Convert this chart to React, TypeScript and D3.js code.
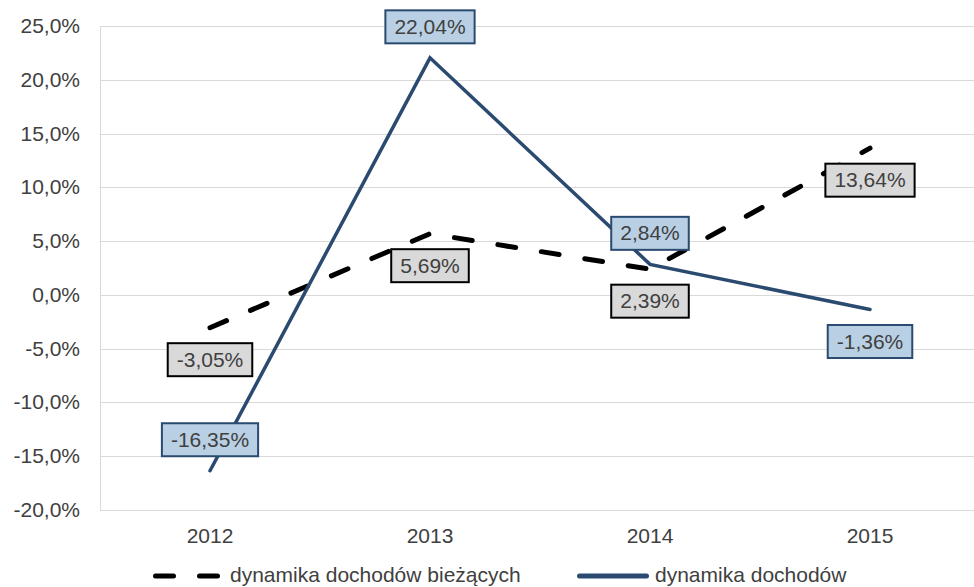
import { useEffect, useRef } from 'react';
import * as d3 from 'd3';

// Years on the x axis
const years = ['2012', '2013', '2014', '2015'];
// dynamika dochodów bieżących (dashed, black)
const currentIncome = [-3.05, 5.69, 2.39, 13.64];
// dynamika dochodów (solid, navy)
const totalIncome = [-16.35, 22.04, 2.84, -1.36];
// where each data label sits relative to its point
const currentLabelSide = ['below', 'below', 'below', 'below'];
const totalLabelSide = ['above', 'above', 'above', 'below'];
const yTicks = [25, 20, 15, 10, 5, 0, -5, -10, -15, -20];
const legendNames = ['dynamika dochodów bieżących', 'dynamika dochodów'];

const W = 974;
const H = 587;
const FONT = '"Liberation Sans", Arial, sans-serif';
const TEXT = '#404040';
const NAVY = '#2a4a70';

const pct = (v: number, digits: number) => v.toFixed(digits).replace('.', ',') + '%';

export default function App() {
  const svgRef = useRef<SVGSVGElement>(null);

  useEffect(() => {
    if (!svgRef.current) return;
    const svg = d3.select(svgRef.current);
    svg.selectAll('*').remove();

    const left = 100;
    const right = 980;
    const x = d3.scaleBand<string>().domain(years).range([left, right]).padding(0);
    const cx = (y: string) => (x(y) ?? 0) + x.bandwidth() / 2;
    const y = d3.scaleLinear().domain([-20, 25]).range([510, 26]);

    // grid lines
    svg
      .selectAll('.grid')
      .data(yTicks)
      .enter()
      .append('line')
      .attr('x1', left)
      .attr('x2', W)
      .attr('y1', (d) => Math.round(y(d)) + 0.5)
      .attr('y2', (d) => Math.round(y(d)) + 0.5)
      .attr('stroke', '#d9d9d9')
      .attr('stroke-width', 1);

    // vertical axis line
    svg
      .append('line')
      .attr('x1', left + 0.5)
      .attr('x2', left + 0.5)
      .attr('y1', Math.round(y(25)) + 0.5)
      .attr('y2', Math.round(y(-20)) + 0.5)
      .attr('stroke', '#d9d9d9');

    // y tick labels
    svg
      .selectAll('.ytick')
      .data(yTicks)
      .enter()
      .append('text')
      .attr('x', 80)
      .attr('y', (d) => y(d) + 7)
      .attr('text-anchor', 'end')
      .attr('font-family', FONT)
      .attr('font-size', '21px')
      .attr('fill', TEXT)
      .text((d) => pct(d, 1));

    // x tick labels
    svg
      .selectAll('.xtick')
      .data(years)
      .enter()
      .append('text')
      .attr('x', (d) => cx(d))
      .attr('y', 543)
      .attr('text-anchor', 'middle')
      .attr('font-family', FONT)
      .attr('font-size', '21px')
      .attr('fill', TEXT)
      .text((d) => d);

    const line = d3
      .line<number>()
      .x((_, i) => cx(years[i]))
      .y((d) => y(d));

    // dashed series
    svg
      .append('path')
      .attr('d', line(currentIncome) ?? '')
      .attr('fill', 'none')
      .attr('stroke', '#000')
      .attr('stroke-width', 5)
      .attr('stroke-dasharray', '18,26')
      .attr('stroke-linecap', 'round');

    // solid series
    svg
      .append('path')
      .attr('d', line(totalIncome) ?? '')
      .attr('fill', 'none')
      .attr('stroke', NAVY)
      .attr('stroke-width', 3.5)
      .attr('stroke-linecap', 'round');

    // data labels
    const drawLabels = (
      values: number[],
      sides: string[],
      fill: string,
      stroke: string,
    ) => {
      values.forEach((v, i) => {
        const px = cx(years[i]);
        const py = y(v) + (sides[i] === 'above' ? -31 : 32);
        const g = svg.append('g');
        const rect = g.append('rect');
        const t = g
          .append('text')
          .attr('x', px)
          .attr('y', py + 7)
          .attr('text-anchor', 'middle')
          .attr('font-family', FONT)
          .attr('font-size', '21px')
          .attr('fill', TEXT)
          .text(pct(v, 2));
        const w = (t.node() as SVGTextElement).getComputedTextLength() + 18;
        rect
          .attr('x', px - w / 2)
          .attr('y', py - 16.5)
          .attr('width', w)
          .attr('height', 33)
          .attr('fill', fill)
          .attr('stroke', stroke)
          .attr('stroke-width', 2);
      });
    };
    drawLabels(currentIncome, currentLabelSide, '#d9d9d9', '#000');
    drawLabels(totalIncome, totalLabelSide, '#b9d0e4', NAVY);

    // legend
    const ly = 576;
    svg
      .append('line')
      .attr('x1', 155.5)
      .attr('x2', 219.5)
      .attr('y1', ly)
      .attr('y2', ly)
      .attr('stroke', '#000')
      .attr('stroke-width', 5)
      .attr('stroke-dasharray', '18,26')
      .attr('stroke-linecap', 'round');
    svg
      .append('text')
      .attr('x', 230)
      .attr('y', ly + 6)
      .attr('font-family', FONT)
      .attr('font-size', '21px')
      .attr('fill', TEXT)
      .text(legendNames[0]);
    svg
      .append('line')
      .attr('x1', 579.5)
      .attr('x2', 646.5)
      .attr('y1', ly)
      .attr('y2', ly)
      .attr('stroke', NAVY)
      .attr('stroke-width', 5)
      .attr('stroke-linecap', 'round');
    svg
      .append('text')
      .attr('x', 655)
      .attr('y', ly + 6)
      .attr('font-family', FONT)
      .attr('font-size', '21px')
      .attr('fill', TEXT)
      .text(legendNames[1]);
  }, []);

  return (
    <svg
      ref={svgRef}
      width={W}
      height={H}
      style={{ position: 'absolute', left: 0, top: 0, background: '#fff' }}
    />
  );
}
